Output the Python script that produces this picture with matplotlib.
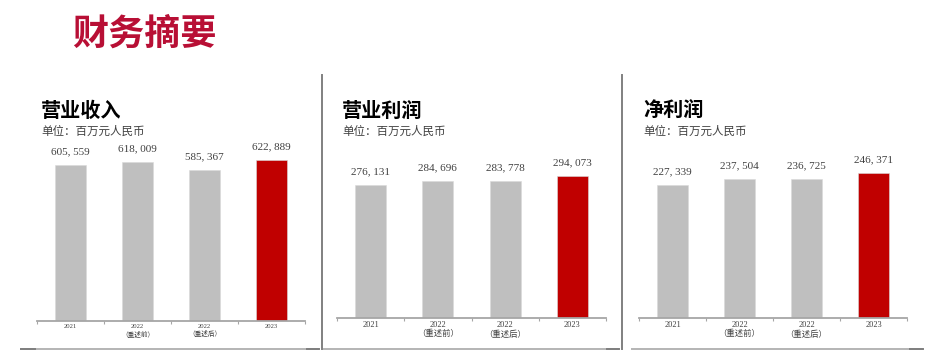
import matplotlib
matplotlib.use('Agg')
import matplotlib.pyplot as plt
from matplotlib.lines import Line2D

plt.rcParams['font.family'] = ['Noto Sans CJK SC', 'DejaVu Sans']

# --- data ---
categories = ['2021', '2022\n（重述前）', '2022\n（重述后）', '2023']
revenue = [605559, 618009, 585367, 622889]
op_profit = [276131, 284696, 283778, 294073]
net_profit = [227339, 237504, 236725, 246371]

panel_titles = ['营业收入', '营业利润', '净利润']
unit_label = '单位：百万元人民币'
main_title = '财务摘要'

W, H = 947, 351
GRAY = '#BFBFBF'
RED = '#C00000'
TXT = '#404040'


def fmt(v):
    return '{:,}'.format(v).replace(',', ', ')


def px_axes(fig, left, right, top, bottom):
    return fig.add_axes([left / W, 1 - bottom / H, (right - left) / W, (bottom - top) / H])


def draw_panel(fig, values, title, box, title_xy, tick_fs):
    left, right, top, bottom = box
    ax = px_axes(fig, left, right, top, bottom)
    x = list(range(len(values)))
    colors = [GRAY] * (len(values) - 1) + [RED]
    ax.bar(x, values, width=0.46, color=colors, edgecolor='#D9D9D9', linewidth=0.4, zorder=2)
    ax.set_xlim(-0.5, len(values) - 0.5)
    ax.set_ylim(0, max(values) * 1.12)
    for xi, v in zip(x, values):
        ax.annotate(fmt(v), (xi, v), xytext=(0, 9.5), textcoords='offset points',
                    ha='center', va='center', fontsize=8, color=TXT,
                    family=['Liberation Serif', 'Noto Sans CJK SC'])
    for s in ['top', 'right', 'left']:
        ax.spines[s].set_visible(False)
    ax.spines['bottom'].set_color('#A6A6A6')
    ax.spines['bottom'].set_linewidth(1.3)
    ax.set_yticks([])
    ax.set_xticks(x)
    ax.set_xticklabels(categories, fontsize=tick_fs, color=TXT,
                       family=['Liberation Serif', 'Noto Sans CJK SC'], linespacing=1.1)
    ax.tick_params(axis='x', which='major', length=0, pad=2.5)
    ax.set_xticks([i - 0.5 for i in range(len(values) + 1)], minor=True)
    ax.tick_params(axis='x', which='minor', length=2.5, color='#A6A6A6', width=0.8)
    tx, ty = title_xy
    fig.text(tx / W, 1 - ty / H, title, fontsize=14.5, fontweight='bold',
             color='black', ha='left', va='center')
    fig.text(tx / W, 1 - (ty + 21) / H, unit_label, fontsize=8.3, color=TXT,
             ha='left', va='center')
    return ax


fig = plt.figure(figsize=(W / 100, H / 100), dpi=100)
fig.patch.set_facecolor('white')

fig.text(72 / W, 1 - 34 / H, main_title, fontsize=26, fontweight='bold',
         color='#B80F35', ha='left', va='center')

draw_panel(fig, revenue, panel_titles[0], (37, 305, 141, 321), (41, 110), 4.8)
draw_panel(fig, op_profit, panel_titles[1], (337, 606, 159, 318), (342, 110), 6.0)
draw_panel(fig, net_profit, panel_titles[2], (639, 907, 156, 318), (643, 110), 6.0)


# separators / frame lines
def fline(xs, ys, color, lw):
    fig.add_artist(Line2D([v / W for v in xs], [1 - v / H for v in ys],
                          color=color, linewidth=lw, transform=fig.transFigure))


fline([322, 322], [75, 349], '#808080', 1.4)
fline([622, 622], [75, 349], '#808080', 1.4)
for a, b in [(21, 318), (324, 618), (632, 922)]:
    fline([a, b], [349, 349], '#B4B4B4', 1.4)
for a, b in [(21, 35), (307, 319), (607, 619), (910, 923)]:
    fline([a, b], [349, 349], '#7F7F7F', 1.4)

fig.savefig('out.png', dpi=100, facecolor='white')
